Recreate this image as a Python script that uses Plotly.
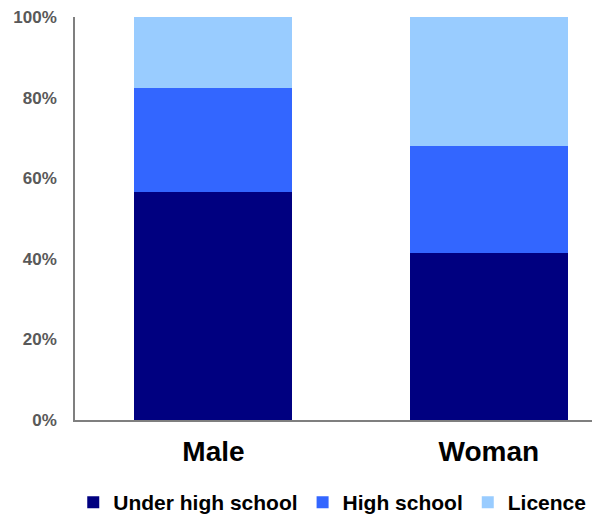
import plotly.graph_objects as go

categories = ["Male", "Woman"]
series_names = ["Under high school", "High school", "Licence"]
under_high_school = [56.5, 41.4]
high_school = [25.8, 26.6]
licence = [17.7, 32.0]
y_ticks = [0, 20, 40, 60, 80, 100]
y_tick_labels = ["0%", "20%", "40%", "60%", "80%", "100%"]

colors = ["#000080", "#3366FF", "#99CCFF"]
values = [under_high_school, high_school, licence]

fig = go.Figure()
for name, vals, col in zip(series_names, values, colors):
    fig.add_trace(go.Bar(x=categories, y=vals, name=name,
                         marker=dict(color=col, line=dict(width=0)),
                         width=0.574))

fig.update_layout(
    barmode="stack",
    width=592, height=518,
    margin=dict(l=67, r=0, t=9, b=106),
    paper_bgcolor="white", plot_bgcolor="white",
    font=dict(family="Liberation Sans, Arial, sans-serif"),
    showlegend=True,
    legend=dict(orientation="h", x=0.49, xanchor="center", y=-0.154, yanchor="top",
                font=dict(size=21, color="black", family="Liberation Sans, Arial, sans-serif", weight="bold"),
                traceorder="normal", itemsizing="constant", tracegroupgap=0,
                bgcolor="rgba(0,0,0,0)"),
    xaxis=dict(type="category", range=[-0.503, 1.404], showline=True, linecolor="#7f7f7f",
               linewidth=1.5, showgrid=False, zeroline=False, ticks="",
               tickfont=dict(size=28, color="black", weight="bold"),
               ticklabelstandoff=6, fixedrange=True),
    yaxis=dict(range=[0, 100], tickvals=y_ticks, ticktext=y_tick_labels,
               showline=True, linecolor="#7f7f7f", linewidth=1.5, showgrid=False,
               zeroline=False, ticks="", tickfont=dict(size=17, color="#595959", weight="bold"),
               ticklabelstandoff=13, ticklabeloverflow="allow", fixedrange=True),
)

fig.write_html("out.html")
